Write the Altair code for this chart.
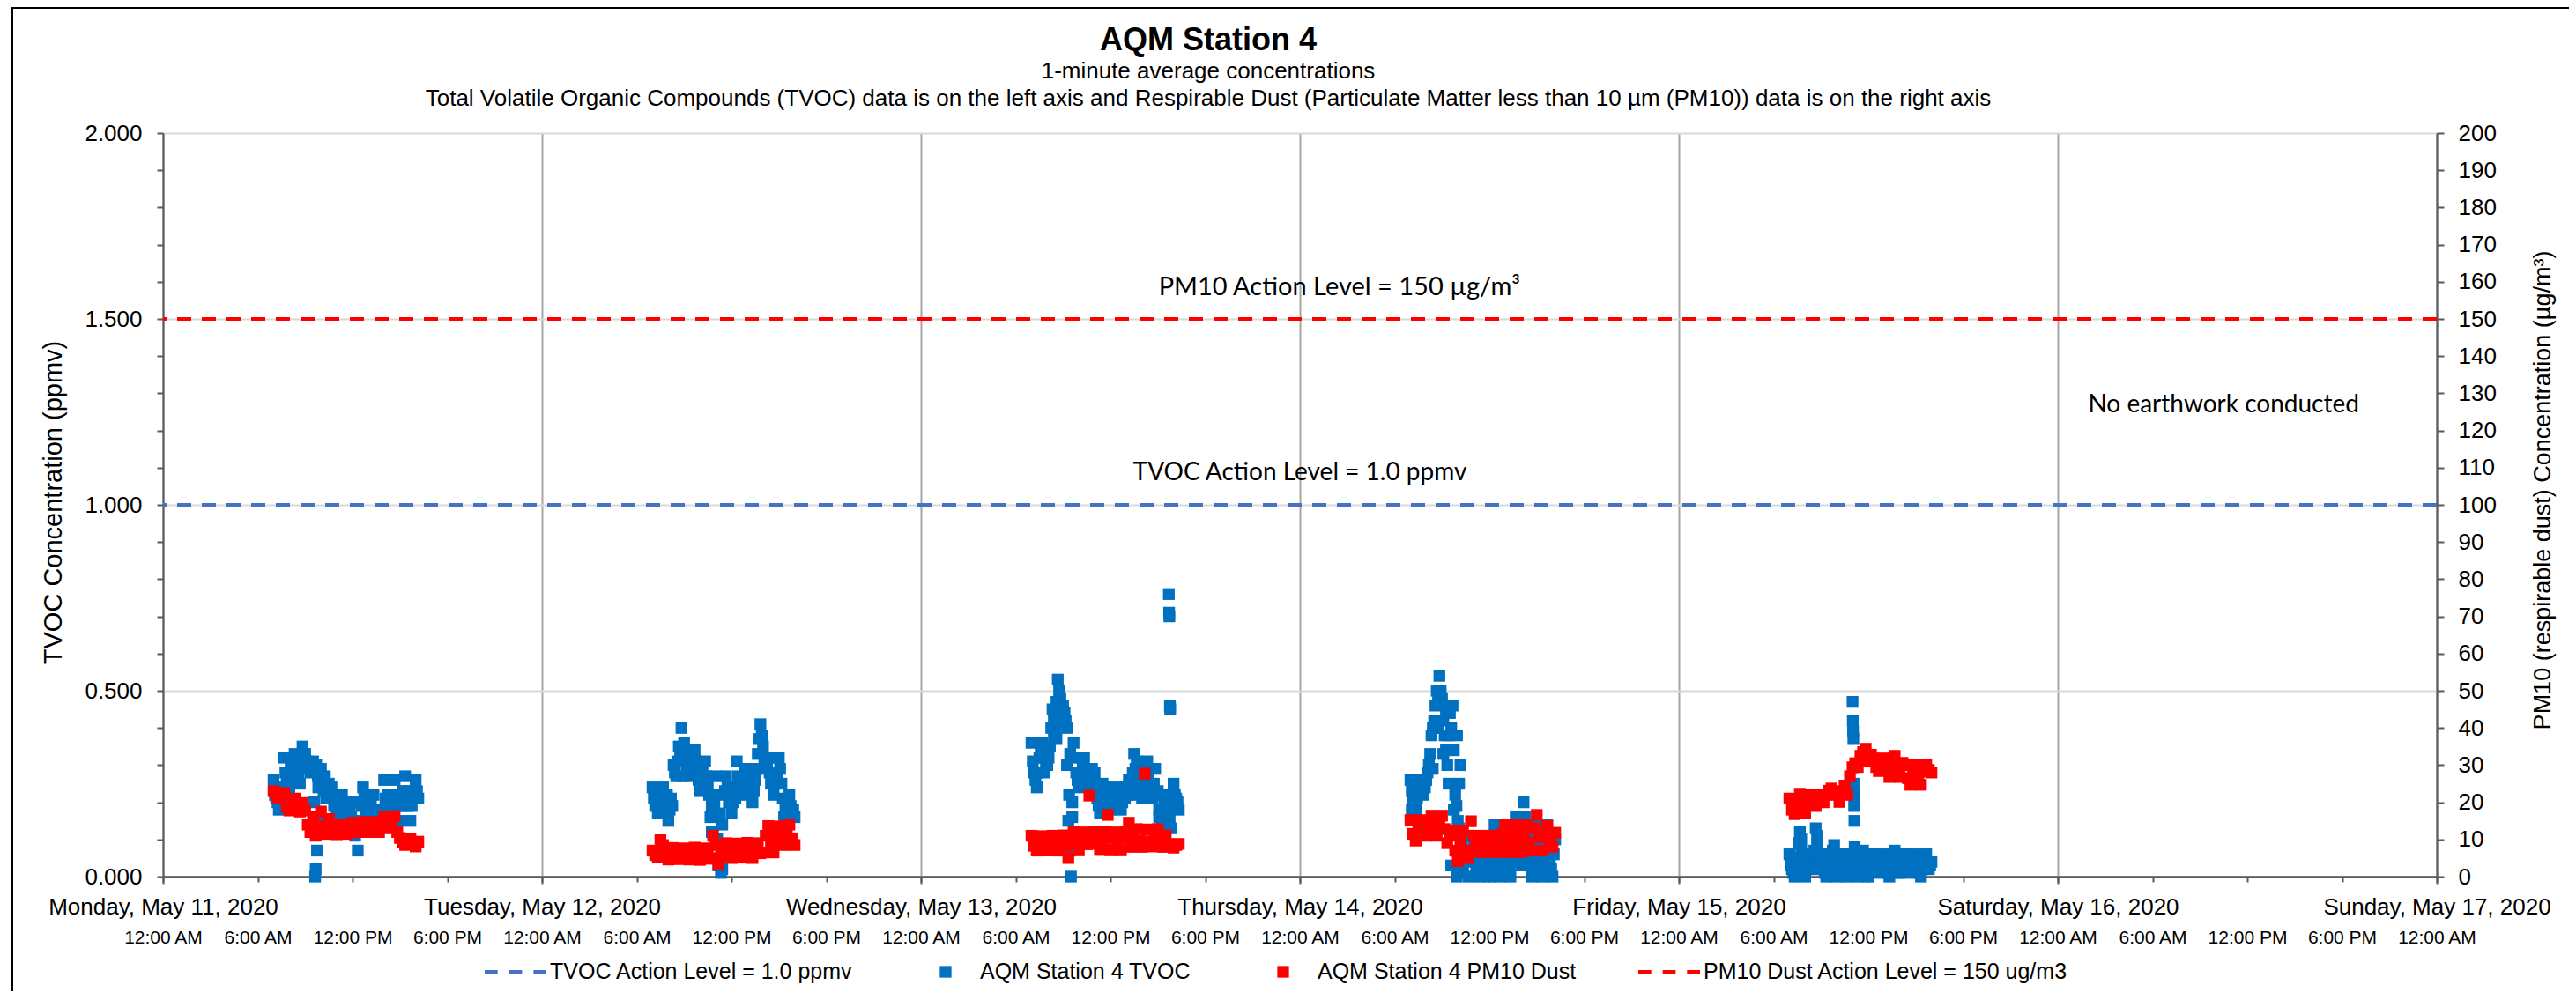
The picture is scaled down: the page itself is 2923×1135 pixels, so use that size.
import altair as alt
import pandas as pd

# ---------------- data ----------------
BASE_TIME = ("07:00 07:10 07:20 07:30 07:40 07:50 08:00 08:10 08:20 08:30 08:40 08:50 "
             "09:00 09:10 09:20 09:30 09:40 09:50 10:00 10:10 10:20 10:30 10:40 10:50 "
             "11:00 11:10 11:20 11:30 11:40 11:50 12:00 12:10 12:20 12:30 12:40 12:50 "
             "13:00 13:10 13:20 13:30 13:40 13:50 14:00 14:10 14:20 14:30 14:40 14:50 "
             "15:00 15:10 15:20 15:30 15:40 15:50").split()
MID_TIME = ("07:05 07:15 07:25 07:35 07:45 07:55 08:05 08:15 08:25 08:35 08:45 08:55 "
            "09:05 09:15 09:25 09:35 09:45 09:55 10:05 10:15 10:25 10:35 10:45 10:55 "
            "11:05 11:15 11:25 11:35 11:45 11:55 12:05 12:15 12:25 12:35 12:45 12:55 "
            "13:05 13:15 13:25 13:35 13:45 13:55 14:05 14:15 14:25 14:35 14:45 14:55 "
            "15:05 15:15 15:25 15:35 15:45 15:55").split()

mon_date = "2020-05-11"
mon_time = BASE_TIME + ["16:00", "16:10"]
mon_tvoc = [0.26, 0.21, 0.18, 0.23, 0.32, 0.27, 0.24, 0.29,
            0.33, 0.28, 0.25, 0.35, 0.33, 0.29, 0.28, 0.31,
            0.02, 0.24, 0.29, 0.23, 0.21, 0.25, 0.24, 0.19,
            0.17, 0.21, 0.22, 0.17, 0.14, 0.19, 0.20, 0.11,
            0.07, 0.20, 0.24, 0.17, 0.14, 0.19, 0.22, 0.15,
            0.12, 0.18, 0.26, 0.19, 0.15, 0.22, 0.26, 0.19,
            0.15, 0.23, 0.27, 0.19, 0.15, 0.23, 0.26, 0.21]
mon_pm10 = [23.0, 21.7, 21.0, 22.3, 22.5, 18.8, 17.8, 20.0,
            21.0, 18.6, 17.5, 19.8, 17.8, 14.0, 12.0, 16.0,
            11.0, 13.0, 17.5, 13.5, 11.5, 15.5, 14.0, 12.3,
            11.4, 13.0, 14.0, 12.3, 11.5, 13.2, 14.5, 12.8,
            12.0, 13.8, 14.7, 12.9, 12.0, 13.8, 14.7, 12.9,
            12.0, 13.8, 16.0, 14.0, 13.0, 15.3, 16.3, 12.0,
            10.4, 9.3, 8.5, 9.8, 10.2, 8.8, 8.1, 9.4]
mon_mid_time = MID_TIME + ["16:05"]
mon_tvoc_mid = [0.22, 0.20, 0.24, 0.21, 0.28, 0.26, 0.30, 0.27,
                0.30, 0.27, 0.32, 0.30, 0.31, 0.30, 0.30, 0.20,
                0.15, 0.26, 0.25, 0.27, 0.23, 0.22, 0.21, 0.22,
                0.19, 0.19, 0.20, 0.18, 0.17, 0.16, 0.13, 0.15,
                0.12, 0.19, 0.21, 0.19, 0.17, 0.16, 0.18, 0.17,
                0.15, 0.17, 0.21, 0.22, 0.19, 0.20, 0.21, 0.21,
                0.19, 0.21, 0.23, 0.20, 0.19, 0.21, 0.23]
mon_tvoc_extra_time = ["09:35", "09:38", "09:42", "09:45", "09:48", "12:15"]
mon_tvoc_extra = [0.12, 0.00, 0.30, 0.07, 0.27, 0.15]

tue_date = "2020-05-12"
tue_time = BASE_TIME + ["16:00"]
tue_tvoc = [0.24, 0.19, 0.17, 0.22, 0.24, 0.19, 0.15, 0.21,
            0.30, 0.27, 0.35, 0.40, 0.36, 0.30, 0.27, 0.32,
            0.34, 0.29, 0.23, 0.28, 0.31, 0.24, 0.16, 0.22,
            0.27, 0.03, 0.01, 0.22, 0.27, 0.20, 0.17, 0.24,
            0.31, 0.25, 0.22, 0.28, 0.29, 0.23, 0.20, 0.26,
            0.33, 0.41, 0.35, 0.29, 0.32, 0.25, 0.22, 0.28,
            0.32, 0.25, 0.16, 0.20, 0.22, 0.18, 0.16]
tue_pm10 = [7.0, 5.8, 5.3, 9.8, 8.5, 5.6, 4.6, 6.8,
            7.7, 5.5, 4.7, 6.9, 7.6, 5.6, 4.6, 6.7,
            7.8, 5.6, 4.5, 6.8, 7.6, 5.7, 4.8, 11.0,
            8.5, 3.5, 5.5, 8.0, 9.0, 6.3, 5.0, 7.7,
            8.9, 6.2, 5.1, 7.6, 9.1, 6.4, 5.0, 7.8,
            9.0, 6.3, 6.5, 11.0, 13.6, 8.8, 6.5, 11.3,
            13.5, 8.9, 8.5, 12.0, 14.0, 10.3, 8.5]
tue_mid_time = MID_TIME
tue_tvoc_mid = [0.21, 0.20, 0.19, 0.20, 0.21, 0.22, 0.18, 0.19,
                0.28, 0.31, 0.33, 0.33, 0.33, 0.28, 0.30, 0.30,
                0.31, 0.26, 0.25, 0.26, 0.27, 0.22, 0.19, 0.20,
                0.10, 0.05, 0.14, 0.23, 0.24, 0.22, 0.20, 0.21,
                0.27, 0.26, 0.25, 0.26, 0.26, 0.25, 0.23, 0.29,
                0.37, 0.38, 0.32, 0.30, 0.28, 0.27, 0.25, 0.27,
                0.29, 0.21, 0.18, 0.20, 0.19, 0.18]
tue_tvoc_extra_time = ["08:55", "09:05", "10:45", "11:05", "11:15", "11:25"]
tue_tvoc_extra = [0.27, 0.32, 0.12, 0.10, 0.17, 0.02]

wed_date = "2020-05-13"
wed_time = BASE_TIME + ["16:00", "16:10", "16:20"]
wed_tvoc = [0.36, 0.28, 0.24, 0.32, 0.36, 0.28, 0.30, 0.35,
            0.45, 0.40, 0.53, 0.48, 0.46, 0.42, 0.15, 0.00,
            0.36, 0.28, 0.24, 0.32, 0.32, 0.27, 0.24, 0.29,
            0.28, 0.21, 0.17, 0.25, 0.24, 0.20, 0.18, 0.22,
            0.24, 0.20, 0.18, 0.22, 0.24, 0.26, 0.22, 0.33,
            0.31, 0.24, 0.21, 0.28, 0.31, 0.24, 0.21, 0.29,
            0.23, 0.12, 0.18, 0.22, 0.16, 0.13, 0.25, 0.21,
            0.18]
wed_pm10 = [11.0, 8.3, 7.0, 9.7, 10.9, 8.2, 7.1, 9.6,
            11.0, 8.4, 7.0, 9.8, 11.1, 8.3, 5.0, 9.7,
            12.0, 8.8, 7.3, 10.4, 11.9, 8.7, 21.8, 10.5,
            12.0, 8.8, 7.4, 10.3, 12.1, 16.6, 7.3, 10.4,
            11.9, 8.9, 7.3, 10.5, 12.0, 14.5, 8.0, 11.2,
            12.8, 9.6, 8.0, 27.7, 12.7, 9.5, 8.1, 11.2,
            12.8, 9.6, 8.0, 11.1, 8.8, 8.1, 7.8, 8.5,
            8.8]
wed_mid_time = MID_TIME + ["16:05", "16:15"]
wed_tvoc_mid = [0.31, 0.26, 0.28, 0.34, 0.32, 0.31, 0.32, 0.40,
                0.42, 0.47, 0.50, 0.45, 0.44, 0.30, 0.10, 0.20,
                0.32, 0.26, 0.28, 0.30, 0.29, 0.26, 0.26, 0.25,
                0.24, 0.19, 0.21, 0.22, 0.22, 0.19, 0.20, 0.21,
                0.22, 0.19, 0.20, 0.21, 0.22, 0.24, 0.28, 0.29,
                0.27, 0.23, 0.25, 0.26, 0.27, 0.23, 0.25, 0.22,
                0.18, 0.15, 0.20, 0.18, 0.15, 0.19, 0.22, 0.20]
wed_tvoc_extra_time = ["08:25", "08:35", "08:45", "09:05", "09:15", "09:23", "09:25",
                       "09:27", "09:35", "15:05", "15:25",
                       "15:42", "15:43", "15:44", "15:46", "15:47"]
wed_tvoc_extra = [0.38, 0.37, 0.42, 0.44, 0.40, 0.22, 0.07, 0.33, 0.16, 0.16, 0.14,
                  0.76, 0.71, 0.70, 0.46, 0.45]

thu_date = "2020-05-14"
thu_time = BASE_TIME + ["16:00", "16:10"]
thu_tvoc = [0.26, 0.21, 0.18, 0.23, 0.26, 0.22, 0.26, 0.30,
            0.38, 0.42, 0.50, 0.54, 0.48, 0.38, 0.30, 0.44,
            0.46, 0.22, 0.15, 0.30, 0.03, 0.07, 0.00, 0.11,
            0.09, 0.03, 0.00, 0.06, 0.11, 0.03, 0.00, 0.09,
            0.14, 0.05, 0.00, 0.09, 0.14, 0.05, 0.00, 0.10,
            0.16, 0.05, 0.03, 0.20, 0.14, 0.06, 0.00, 0.09,
            0.14, 0.05, 0.00, 0.09, 0.14, 0.04, 0.00, 0.10]
thu_pm10 = [15.2, 11.5, 9.7, 13.4, 15.2, 12.8, 11.0, 14.6,
            16.4, 12.8, 11.0, 14.6, 16.4, 12.8, 9.0, 11.0,
            12.4, 7.0, 4.2, 9.7, 12.4, 7.0, 5.0, 14.9,
            11.0, 8.1, 6.6, 9.5, 11.0, 8.1, 6.6, 9.5,
            11.0, 8.1, 6.6, 11.5, 14.0, 9.1, 6.6, 11.5,
            14.0, 9.1, 6.6, 11.5, 14.0, 9.1, 7.0, 13.0,
            16.6, 10.6, 7.0, 11.8, 13.6, 9.8, 8.0, 11.8]
thu_mid_time = MID_TIME + ["16:05"]
thu_tvoc_mid = [0.23, 0.20, 0.21, 0.24, 0.24, 0.24, 0.28, 0.33,
                0.40, 0.46, 0.48, 0.50, 0.42, 0.34, 0.38, 0.40,
                0.34, 0.19, 0.25, 0.08, 0.05, 0.04, 0.06, 0.07,
                0.05, 0.02, 0.03, 0.08, 0.06, 0.02, 0.05, 0.11,
                0.09, 0.03, 0.05, 0.11, 0.08, 0.03, 0.06, 0.12,
                0.10, 0.04, 0.11, 0.16, 0.10, 0.03, 0.05, 0.11,
                0.09, 0.02, 0.05, 0.11, 0.08, 0.02, 0.06]
thu_tvoc_extra_time = ["07:05", "08:25", "08:45", "09:05", "09:15", "09:25", "09:35",
                       "09:45", "09:55", "09:57", "10:05", "10:15"]
thu_tvoc_extra = [0.18, 0.29, 0.40, 0.33, 0.45, 0.25, 0.03, 0.18, 0.00, 0.38, 0.13, 0.01]

fri_date = "2020-05-15"
fri_time = BASE_TIME + ["16:00"]
fri_tvoc = [0.06, 0.02, 0.00, 0.04, 0.12, 0.02, 0.00, 0.04,
            0.06, 0.02, 0.13, 0.04, 0.06, 0.02, 0.00, 0.04,
            0.06, 0.085, 0.00, 0.04, 0.06, 0.02, 0.00, 0.04,
            0.47, 0.02, 0.00, 0.04, 0.07, 0.02, 0.00, 0.04,
            0.06, 0.02, 0.01, 0.04, 0.06, 0.02, 0.00, 0.04,
            0.07, 0.02, 0.01, 0.04, 0.06, 0.03, 0.01, 0.05,
            0.06, 0.02, 0.00, 0.04, 0.06, 0.02, 0.04]
fri_pm10 = [21.0, 18.0, 16.8, 19.8, 22.3, 18.6, 17.0, 20.6,
            22.0, 20.0, 19.0, 21.0, 22.0, 20.0, 22.0, 23.1,
            23.7, 22.5, 22.0, 20.1, 23.0, 24.5, 22.0, 27.0,
            29.4, 30.5, 29.5, 32.5, 33.5, 34.4, 31.0, 32.8,
            31.8, 29.5, 28.4, 30.7, 31.8, 28.7, 26.8, 30.6,
            32.5, 28.7, 26.8, 30.6, 30.0, 26.5, 24.7, 28.2,
            30.0, 26.5, 24.7, 28.2, 30.0, 28.7, 28.0]
fri_mid_time = MID_TIME
fri_tvoc_mid = [0.03, 0.01, 0.02, 0.05, 0.07, 0.01, 0.02, 0.03,
                0.03, 0.05, 0.08, 0.03, 0.03, 0.01, 0.02, 0.05,
                0.07, 0.04, 0.02, 0.03, 0.04, 0.01, 0.02, 0.05,
                0.03, 0.01, 0.02, 0.05, 0.04, 0.01, 0.02, 0.03,
                0.04, 0.02, 0.03, 0.05, 0.03, 0.01, 0.02, 0.05,
                0.04, 0.01, 0.03, 0.05, 0.04, 0.02, 0.03, 0.05,
                0.04, 0.01, 0.02, 0.05, 0.04, 0.03]
fri_tvoc_extra_time = ["07:35", "07:45", "08:35", "08:45", "10:55", "11:01", "11:02",
                       "11:03", "11:04", "11:05", "11:06", "11:07", "11:08"]
fri_tvoc_extra = [0.09, 0.10, 0.07, 0.11, 0.06, 0.42, 0.39, 0.37, 0.25, 0.22, 0.19, 0.15, 0.08]

tvoc_action_level = 1.0
pm10_action_level = 150

series_names = ["TVOC Action Level = 1.0 ppmv", "AQM Station 4 TVOC",
                "AQM Station 4 PM10 Dust", "PM10 Dust Action Level = 150 ug/m3"]
series_colors = ["#4472C4", "#0070C0", "#FF0000", "#FF0000"]

day_dates = ["2020-05-11", "2020-05-12", "2020-05-13", "2020-05-14",
             "2020-05-15", "2020-05-16", "2020-05-17"]
hour_marks = [0, 6, 12, 18]

annotations_left = [
    {"t": "2020-05-14T00:00", "v": 1.085, "label": "TVOC Action Level = 1.0 ppmv"},
    {"t": "2020-05-16T10:30", "v": 1.268, "label": "No earthwork conducted"},
]
annotations_right = [
    {"t": "2020-05-14T02:30", "p": 158.5, "label": "PM10 Action Level = 150 µg/m³"},
]

# ---------------- build tables ----------------
days = [
    (mon_date, mon_time, mon_tvoc, mon_pm10, mon_mid_time, mon_tvoc_mid, mon_tvoc_extra_time, mon_tvoc_extra),
    (tue_date, tue_time, tue_tvoc, tue_pm10, tue_mid_time, tue_tvoc_mid, tue_tvoc_extra_time, tue_tvoc_extra),
    (wed_date, wed_time, wed_tvoc, wed_pm10, wed_mid_time, wed_tvoc_mid, wed_tvoc_extra_time, wed_tvoc_extra),
    (thu_date, thu_time, thu_tvoc, thu_pm10, thu_mid_time, thu_tvoc_mid, thu_tvoc_extra_time, thu_tvoc_extra),
    (fri_date, fri_time, fri_tvoc, fri_pm10, fri_mid_time, fri_tvoc_mid, fri_tvoc_extra_time, fri_tvoc_extra),
]
tvoc_rows, pm_rows = [], []
for d, tms, tv, pm, mt, mv, xt, xv in days:
    assert len(tms) == len(tv) == len(pm), (d, len(tms), len(tv), len(pm))
    assert len(mt) == len(mv), (d, len(mt), len(mv))
    assert len(xt) == len(xv), d
    for tt, v in zip(tms + mt + xt, tv + mv + xv):
        tvoc_rows.append({"t": f"{d}T{tt}", "v": v, "series": series_names[1]})
    for tt, p in zip(tms, pm):
        pm_rows.append({"t": f"{d}T{tt}", "p": p, "series": series_names[2]})
tvoc_df = pd.DataFrame(tvoc_rows)
pm_df = pd.DataFrame(pm_rows)


def dt(date, hour=0):
    y, m, dd = (int(s) for s in date.split("-"))
    return alt.DateTime(year=y, month=m, date=dd, hours=hour)


x_domain = [dt(day_dates[0]), dt(day_dates[-1])]
day_values = [dt(d) for d in day_dates]
hour_values = [dt(d, h) for d in day_dates[:-1] for h in hour_marks] + [dt(day_dates[-1])]

FONT = "Liberation Sans"
AXIS_GRAY = "#595959"

day_axis = alt.Axis(orient="bottom", values=day_values,
                    labelExpr="timeFormat(datum.value, '%A, %B %-d, %Y')",
                    grid=True, gridColor="#A6A6A6", gridWidth=2,
                    ticks=True, tickSize=8, tickColor=AXIS_GRAY, tickWidth=2,
                    domain=False, labelFont=FONT, labelFontSize=26, labelColor="black",
                    labelPadding=13, labelOverlap=False, labelFlush=False, labelBound=False,
                    labelLimit=0, title=None)
hour_axis = alt.Axis(orient="bottom", values=hour_values,
                     labelExpr="timeFormat(datum.value, '%-I:%M %p')",
                     grid=False, ticks=True, tickSize=6, tickColor=AXIS_GRAY, tickWidth=2,
                     domain=True, domainColor=AXIS_GRAY, domainWidth=2.5,
                     labelFont=FONT, labelFontSize=21, labelColor="black",
                     labelPadding=52, labelOverlap=False, labelFlush=False, labelBound=False,
                     labelLimit=0, title=None)

left_ticks = [round(i * 0.1, 1) for i in range(21)]
left_axis = alt.Axis(orient="left", values=left_ticks,
                     labelExpr="round(datum.value*10) % 5 == 0 ? format(datum.value, '.3f') : ''",
                     grid=True, gridColor="#D9D9D9", gridWidth=2,
                     gridOpacity={"condition": {"test": "round(datum.value*10) % 5 == 0", "value": 1}, "value": 0},
                     domain=True, domainColor=AXIS_GRAY, domainWidth=2,
                     ticks=True, tickSize=7, tickColor=AXIS_GRAY, tickWidth=2,
                     labelFont=FONT, labelFontSize=26, labelColor="black", labelPadding=17,
                     labelOverlap=False,
                     title="TVOC Concentration (ppmv)", titleFont=FONT, titleFontSize=29,
                     titleFontWeight="normal", titleColor="black",
                     titleX=-125, titleY=419, titleAngle=270, titleAlign="center",
                     titleBaseline="middle")
right_ticks = list(range(0, 201, 10))
right_axis = alt.Axis(orient="right", values=right_ticks, format="d",
                      grid=False, domain=True, domainColor=AXIS_GRAY, domainWidth=2,
                      ticks=True, tickSize=8, tickColor=AXIS_GRAY, tickWidth=2,
                      labelFont=FONT, labelFontSize=26, labelColor="black", labelPadding=16,
                      labelOverlap=False,
                      title="PM10 (respirable dust) Concentration (µg/m³)", titleFont=FONT,
                      titleFontSize=27, titleFontWeight="normal", titleColor="black",
                      titleX=120, titleY=405, titleAngle=270, titleAlign="center",
                      titleBaseline="middle")

x_scale = alt.Scale(domain=x_domain)
y_left_scale = alt.Scale(domain=[0, 2], nice=False, zero=True)
y_right_scale = alt.Scale(domain=[0, 200], nice=False, zero=True)

DASH = "M-1,-0.06H-0.58V0.06H-1Z M-0.21,-0.06H0.21V0.06H-0.21Z M0.58,-0.06H1V0.06H0.58Z"
SQUARE = "M-0.19,-0.19H0.19V0.19H-0.19Z"
color_scale = alt.Scale(domain=series_names, range=series_colors)
shape_scale = alt.Scale(domain=series_names, range=[DASH, SQUARE, SQUARE, DASH])
legend = alt.Legend(orient="none", legendX=365, legendY=917, direction="horizontal",
                    columns=4, columnPadding=70, symbolSize=4900, symbolStrokeWidth=0,
                    labelFont=FONT, labelFontSize=25, labelColor="black", labelOffset=4,
                    labelLimit=0, title=None)
color_enc = alt.Color("series:N", scale=color_scale, legend=legend)
shape_enc = alt.Shape("series:N", scale=shape_scale, legend=legend)

# ---------------- left (TVOC) ----------------
tvoc_pts = alt.Chart(tvoc_df).mark_point(filled=True, size=4900, opacity=1, strokeWidth=0).encode(
    x=alt.X("t:T", scale=x_scale, axis=day_axis),
    y=alt.Y("v:Q", scale=y_left_scale, axis=left_axis),
    color=color_enc, shape=shape_enc,
)
tvoc_rule = alt.Chart(pd.DataFrame({"level": [tvoc_action_level]})).mark_rule(
    color="#4472C4", strokeDash=[16, 12], strokeWidth=4).encode(
    y=alt.Y("level:Q", scale=y_left_scale, axis=left_axis))
left_text = alt.Chart(pd.DataFrame(annotations_left)).mark_text(
    font="Lato", fontSize=28, color="black", align="center", baseline="middle").encode(
    x=alt.X("t:T", scale=x_scale, axis=day_axis),
    y=alt.Y("v:Q", scale=y_left_scale, axis=left_axis),
    text="label:N")
left = alt.layer(tvoc_rule, tvoc_pts, left_text)

# ---------------- right (PM10) ----------------
pm_pts = alt.Chart(pm_df).mark_point(filled=True, size=4900, opacity=1, strokeWidth=0).encode(
    x=alt.X("t:T", scale=x_scale, axis=hour_axis),
    y=alt.Y("p:Q", scale=y_right_scale, axis=right_axis),
    color=color_enc, shape=shape_enc,
)
pm_rule = alt.Chart(pd.DataFrame({"level": [pm10_action_level]})).mark_rule(
    color="#FF0000", strokeDash=[16, 12], strokeWidth=4).encode(
    y=alt.Y("level:Q", scale=y_right_scale, axis=right_axis))
right_text = alt.Chart(pd.DataFrame(annotations_right)).mark_text(
    font="Lato", fontSize=29, color="black", align="center", baseline="middle").encode(
    x=alt.X("t:T", scale=x_scale, axis=hour_axis),
    y=alt.Y("p:Q", scale=y_right_scale, axis=right_axis),
    text="label:N")
right = alt.layer(pm_pts, pm_rule, right_text)

# ---------------- decoration: title block and chart border ----------------
one = pd.DataFrame({"k": [0]})
title_txt = alt.Chart(one).mark_text(text="AQM Station 4", font=FONT, fontSize=36,
                                     fontWeight="bold", color="black", align="center",
                                     baseline="alphabetic").encode(
    x=alt.value(1186), y=alt.value(-94))
sub1 = alt.Chart(one).mark_text(text="1-minute average concentrations", font=FONT,
                                fontSize=26, color="black", align="center",
                                baseline="alphabetic").encode(
    x=alt.value(1186), y=alt.value(-62))
sub2 = alt.Chart(one).mark_text(
    text="Total Volatile Organic Compounds (TVOC) data is on the left axis and Respirable Dust "
         "(Particulate Matter less than 10 µm (PM10)) data is on the right axis",
    font=FONT, fontSize=26, color="black", align="center", baseline="alphabetic").encode(
    x=alt.value(1186), y=alt.value(-31))
border = alt.Chart(one).mark_rect(filled=False, color="black", strokeWidth=2).encode(
    x=alt.value(-171), x2=alt.value(2731), y=alt.value(-142), y2=alt.value(975))

chart = alt.layer(left, right, title_txt, sub1, sub2, border).resolve_scale(
    x="independent", y="independent"
).properties(
    width=2580, height=844,
    padding={"left": 177, "top": 143, "right": 150, "bottom": 130},
    autosize=alt.AutoSizeParams(type="none"),
    background="white",
).configure_view(stroke=None)

chart.save("out.html", embed_options={"renderer": "svg", "actions": False})
